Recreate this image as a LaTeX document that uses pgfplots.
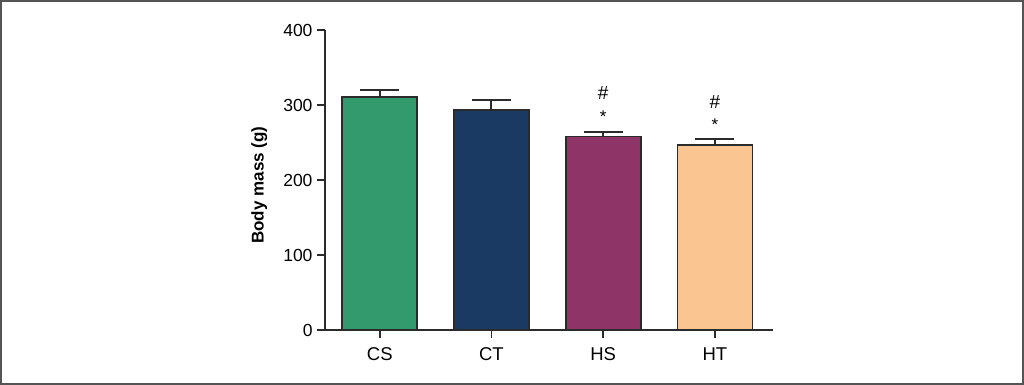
\documentclass[border=0pt]{standalone}
\usepackage{pgfplots}
\pgfplotsset{compat=1.18}
\usepackage{fontspec}
\setmainfont{Liberation Sans}
\definecolor{cs}{HTML}{339A6E}
\definecolor{ct}{HTML}{1B3A63}
\definecolor{hs}{HTML}{8E3466}
\definecolor{ht}{HTML}{FBC591}
\definecolor{edge}{HTML}{2B2B2B}
\definecolor{frame}{HTML}{555555}
\begin{document}
\begin{tikzpicture}
\useasboundingbox (0,0) rectangle (1024bp,385bp);
\draw[color=frame, line width=2bp] (1bp,1bp) rectangle (1023bp,384bp);
\begin{axis}[at={(325bp,55bp)}, anchor=south west, scale only axis,
  width=448bp, height=300bp,
  xmin=-0.49, xmax=3.52, ymin=0, ymax=400,
  axis lines*=left,
  axis line style={line width=1.8bp, color=edge},
  ytick={0,100,200,300,400},
  xtick={0,1,2,3}, xticklabels={CS,CT,HS,HT},
  tick align=outside, major tick length=8bp,
  tick style={line width=1.8bp, color=edge},
  /pgf/number format/assume math mode=true,
  yticklabel style={font=\fontsize{17.5bp}{20bp}\selectfont, xshift=-1bp},
  xticklabel style={font=\fontsize{18.5bp}{21bp}\selectfont, yshift=-6bp},
  ylabel={\textbf{Body mass (g)}},
  ylabel style={at={(axis description cs:-0.147,0.483)}, anchor=center, font=\fontsize{17bp}{20bp}\selectfont},
  ybar, bar width=75bp, bar shift=0pt,
  clip=false,
  error bars/y dir=plus, error bars/y explicit,
  error bars/error mark=-,
  error bars/error mark options={mark size=19.5bp, line width=2bp, color=edge, rotate=90},
  error bars/error bar style={line width=2bp, color=edge},
]
\addplot[fill=cs, draw=edge, line width=1.8bp] coordinates {(0,311) +- (0,9)};
\addplot[fill=ct, draw=edge, line width=1.8bp] coordinates {(1,293) +- (0,14)};
\addplot[fill=hs, draw=edge, line width=1.8bp] coordinates {(2,258) +- (0,6.5)};
\addplot[fill=ht, draw=edge, line width=1.8bp] coordinates {(3,247) +- (0,7)};
\node[font=\fontsize{19bp}{22bp}\selectfont] at (axis cs:2,316) {\#};
\node[font=\fontsize{17bp}{20bp}\selectfont] at (axis cs:2,285) {*};
\node[font=\fontsize{19bp}{22bp}\selectfont] at (axis cs:3,304) {\#};
\node[font=\fontsize{17bp}{20bp}\selectfont] at (axis cs:3,274) {*};
\end{axis}
\end{tikzpicture}
\end{document}
